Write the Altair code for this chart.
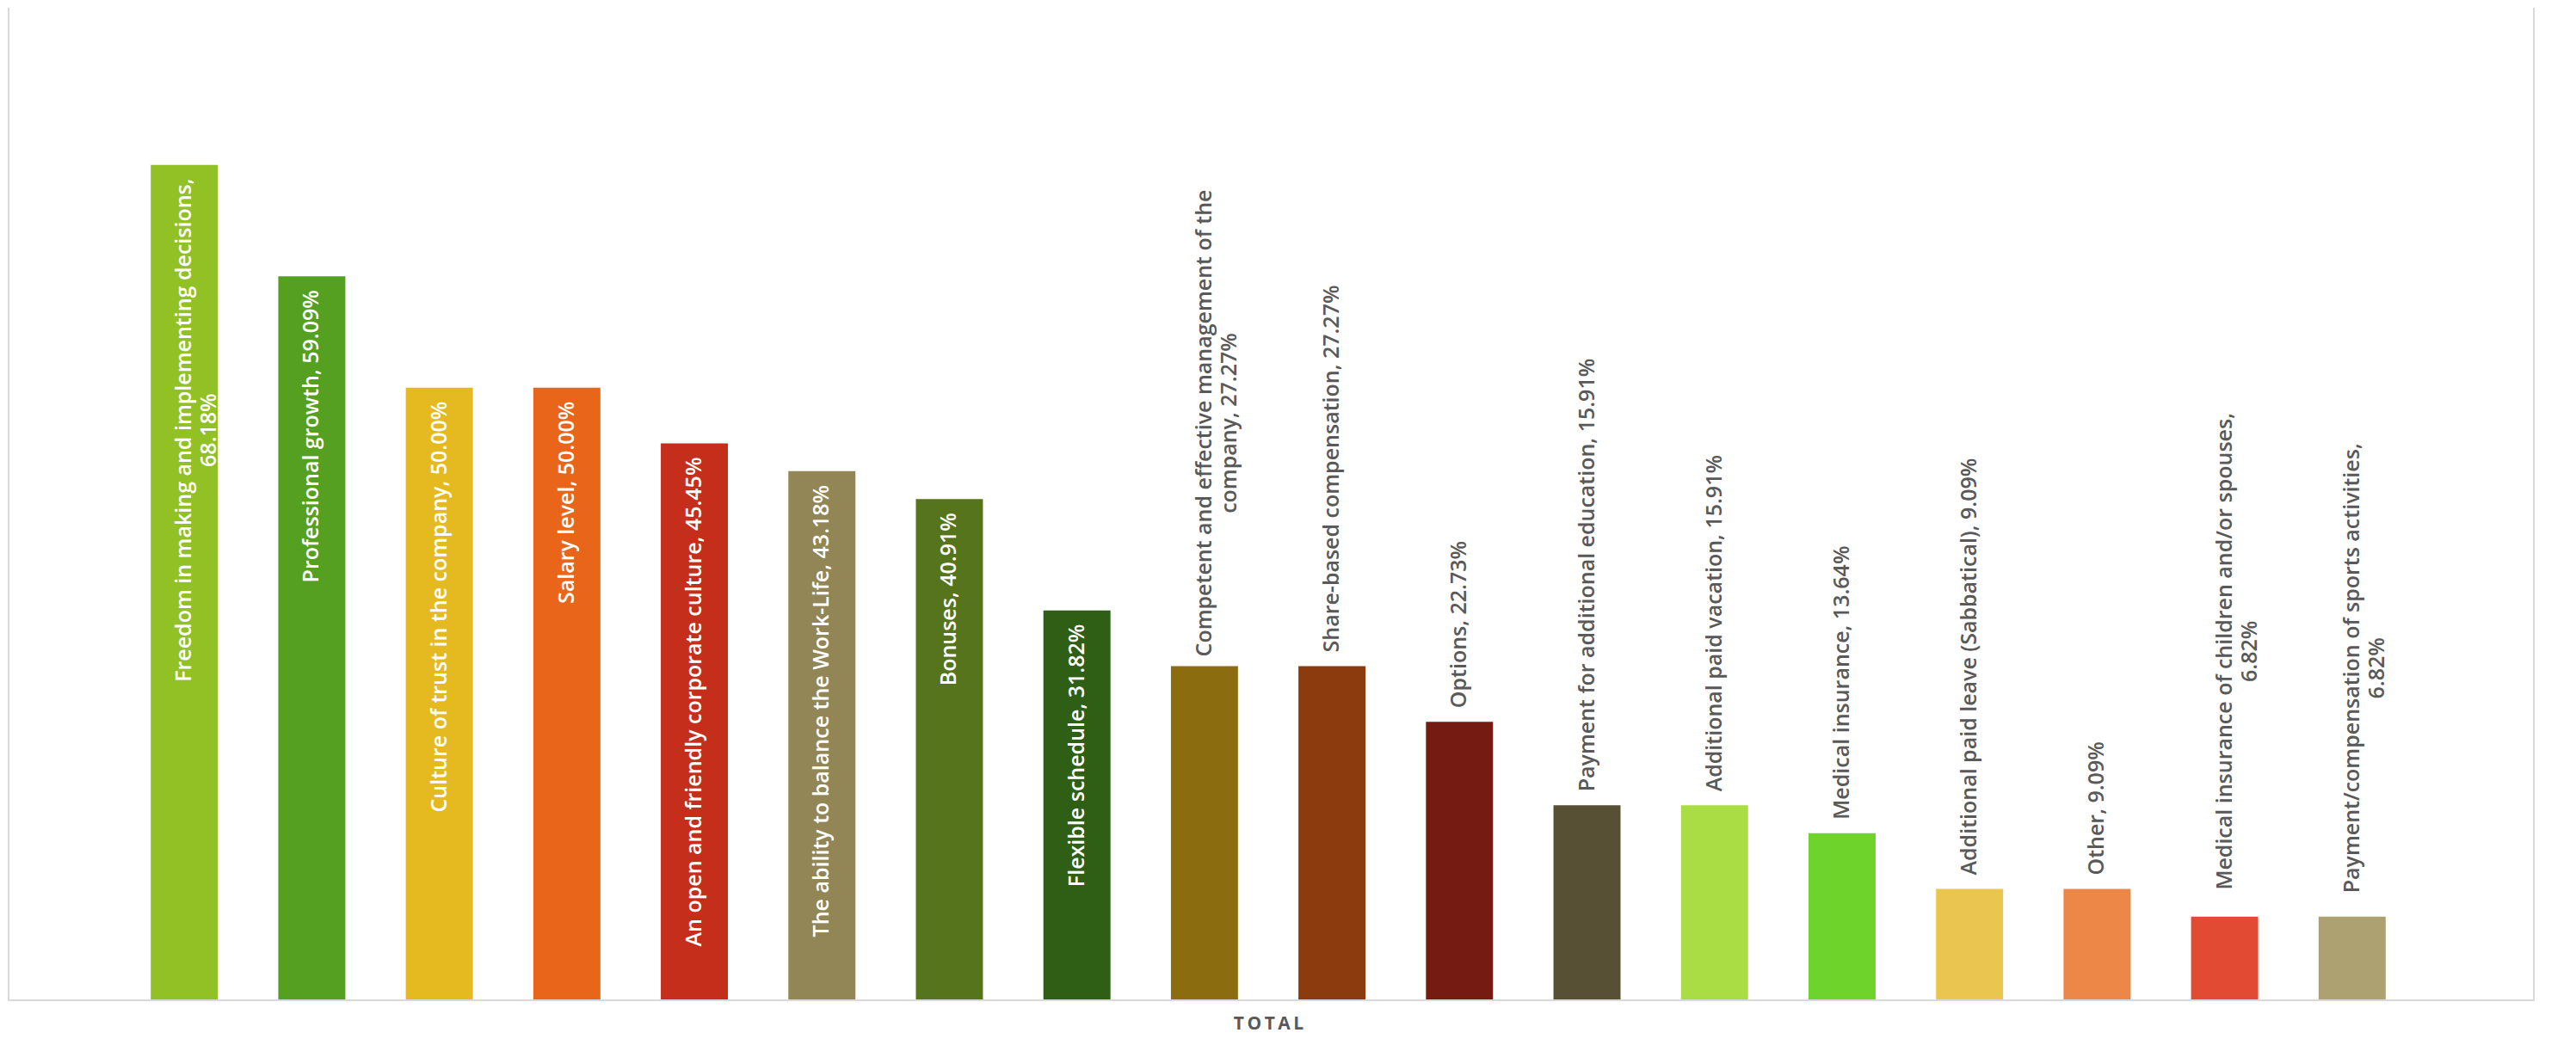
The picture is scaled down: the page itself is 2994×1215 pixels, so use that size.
import altair as alt
import pandas as pd

categories = [
    "Freedom in making and implementing decisions",
    "Professional growth",
    "Culture of trust in the company",
    "Salary level",
    "An open and friendly corporate culture",
    "The ability to balance the Work-Life",
    "Bonuses",
    "Flexible schedule",
    "Competent and effective management of the company",
    "Share-based compensation",
    "Options",
    "Payment for additional education",
    "Additional paid vacation",
    "Medical insurance",
    "Additional paid leave (Sabbatical)",
    "Other",
    "Medical insurance of children and/or spouses",
    "Payment/compensation of sports activities",
]
values = [68.18, 59.09, 50.00, 50.00, 45.45, 43.18, 40.91, 31.82, 27.27,
          27.27, 22.73, 15.91, 15.91, 13.64, 9.09, 9.09, 6.82, 6.82]
labels = [
    "Freedom in making and implementing decisions,\n68.18%",
    "Professional growth, 59.09%",
    "Culture of trust in the company, 50.00%",
    "Salary level, 50.00%",
    "An open and friendly corporate culture, 45.45%",
    "The ability to balance the Work-Life, 43.18%",
    "Bonuses, 40.91%",
    "Flexible schedule, 31.82%",
    "Competent and effective management of the\ncompany, 27.27%",
    "Share-based compensation, 27.27%",
    "Options, 22.73%",
    "Payment for additional education, 15.91%",
    "Additional paid vacation, 15.91%",
    "Medical insurance, 13.64%",
    "Additional paid leave (Sabbatical), 9.09%",
    "Other, 9.09%",
    "Medical insurance of children and/or spouses,\n6.82%",
    "Payment/compensation of sports activities,\n6.82%",
]
label_inside = [True] * 8 + [False] * 10
colors = ["#92C125", "#55A021", "#E5B920", "#E8651A", "#C52E1A", "#938656",
          "#56741C", "#2F5E15", "#8B6D10", "#8B3B0E", "#751B12", "#575034",
          "#AADD44", "#6ED42B", "#EAC54F", "#EC8748", "#E34A33", "#ADA171"]

df = pd.DataFrame({
    "category": categories,
    "value": values,
    "label": labels,
    "inside": label_inside,
})
df["multi"] = df["label"].str.contains("\n")
df["first_line_len"] = df["label"].str.split("\n").str[0].str.len()

W, H = 2936, 1154
YMAX = 81
FONT = "Open Sans"
FS = 25
CHAR_W = 13.0   # approx. rendered width of one character (px)
GAP = 16        # gap between bar top and label (px)
PX = YMAX / H   # data units per pixel

x_enc = alt.X(
    "category:N",
    sort=categories,
    scale=alt.Scale(paddingInner=0.474, paddingOuter=1, range=[18, 2912]),
    axis=alt.Axis(
        title="T\u2009O\u2009T\u2009A\u2009L", labels=False, ticks=False, domain=False,
        titleFont=FONT, titleFontSize=21, titleFontWeight="bold",
        titleColor="#595959", titlePadding=16,
    ),
)
y_scale = alt.Scale(domain=[0, YMAX], nice=False)
y_enc = alt.Y("value:Q", scale=y_scale, axis=None)

base = alt.Chart(df)

bars = base.mark_bar().encode(
    x=x_enc,
    y=y_enc,
    color=alt.Color("category:N", sort=categories,
                    scale=alt.Scale(domain=categories, range=colors), legend=None),
)

text_style = dict(angle=270, baseline="middle", font=FONT, fontSize=FS,
                  fontWeight=600, lineBreak="\n", lineHeight=29)

inside_single = base.transform_filter("datum.inside && !datum.multi").mark_text(
    align="right", dx=-GAP, color="white", **text_style
).encode(x=x_enc, y=y_enc, text="label:N")

outside_single = base.transform_filter("!datum.inside && !datum.multi").mark_text(
    align="left", dx=GAP, color="#595959", **text_style
).encode(x=x_enc, y=y_enc, text="label:N")

# two-line labels: lines centred on each other, block anchored to the bar top
inside_multi = base.transform_filter("datum.inside && datum.multi").transform_calculate(
    ypos=f"datum.value - ({GAP} + datum.first_line_len * {CHAR_W} / 2) * {PX}"
).mark_text(align="center", color="white", **text_style).encode(
    x=x_enc, y=alt.Y("ypos:Q", scale=y_scale, axis=None), text="label:N"
)

outside_multi = base.transform_filter("!datum.inside && datum.multi").transform_calculate(
    ypos=f"datum.value + ({GAP} + datum.first_line_len * {CHAR_W} / 2) * {PX}"
).mark_text(align="center", color="#595959", **text_style).encode(
    x=x_enc, y=alt.Y("ypos:Q", scale=y_scale, axis=None), text="label:N"
)

frame_data = alt.Data(values=[{"side": "frame"}])
left_line = alt.Chart(frame_data).mark_rule(color="#D9D9D9", strokeWidth=2).encode(
    x=alt.value(1), y=alt.value(0), y2=alt.value(H)
)
right_line = alt.Chart(frame_data).mark_rule(color="#D9D9D9", strokeWidth=2).encode(
    x=alt.value(W), y=alt.value(0), y2=alt.value(H)
)
bottom_line = alt.Chart(frame_data).mark_rule(color="#D9D9D9", strokeWidth=2).encode(
    x=alt.value(0), x2=alt.value(W + 1), y=alt.value(H)
)

chart = alt.layer(
    bars, inside_single, outside_single, inside_multi, outside_multi,
    left_line, right_line, bottom_line,
).properties(
    width=W, height=H,
    padding={"left": 0, "top": 0, "right": 0, "bottom": 10},
    background="white",
).configure_view(stroke=None)

chart.save("out.html", embed_options={"renderer": "svg", "actions": False})
